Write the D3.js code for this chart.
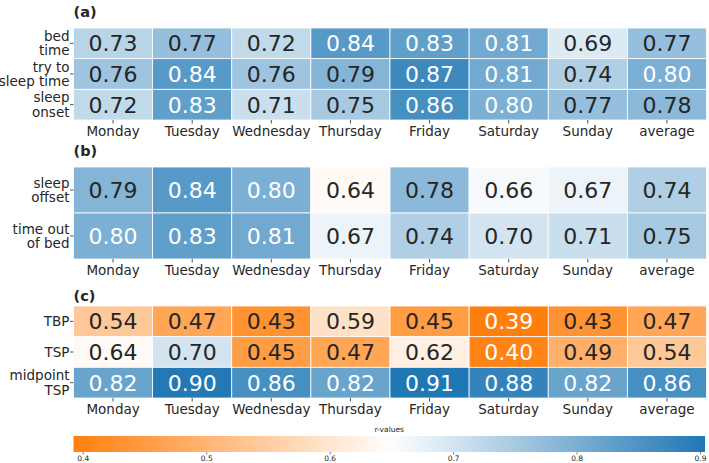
<!DOCTYPE html>
<html>
<head>
<meta charset="utf-8">
<script src="https://cdn.jsdelivr.net/npm/d3@7"></script>
<style>
  html, body { margin: 0; padding: 0; background: #fff; }
  svg { display: block; font-family: "DejaVu Sans", sans-serif; }
</style>
</head>
<body>
<svg id="chart" width="709" height="463"></svg>
<script>
const days = ["Monday", "Tuesday", "Wednesday", "Thursday", "Friday", "Saturday", "Sunday", "average"];

const rowsA = [["bed", "time"], ["try to", "sleep time"], ["sleep", "onset"]];
const valuesA = [
  [0.73, 0.77, 0.72, 0.84, 0.83, 0.81, 0.69, 0.77],
  [0.76, 0.84, 0.76, 0.79, 0.87, 0.81, 0.74, 0.80],
  [0.72, 0.83, 0.71, 0.75, 0.86, 0.80, 0.77, 0.78]
];

const rowsB = [["sleep", "offset"], ["time out", "of bed"]];
const valuesB = [
  [0.79, 0.84, 0.80, 0.64, 0.78, 0.66, 0.67, 0.74],
  [0.80, 0.83, 0.81, 0.67, 0.74, 0.70, 0.71, 0.75]
];

const rowsC = [["TBP"], ["TSP"], ["midpoint", "TSP"]];
const valuesC = [
  [0.54, 0.47, 0.43, 0.59, 0.45, 0.39, 0.43, 0.47],
  [0.64, 0.70, 0.45, 0.47, 0.62, 0.40, 0.49, 0.54],
  [0.82, 0.90, 0.86, 0.82, 0.91, 0.88, 0.82, 0.86]
];

const cbarTicks = [0.4, 0.5, 0.6, 0.7, 0.8, 0.9];
const cbarLabel = "r-values";
const panelTitles = ["(a)", "(b)", "(c)"];

const vmin = 0.3925, vmid = 0.65, vmax = 0.904;
const color = d3.scaleLinear()
  .domain([vmin, vmid, vmax])
  .range(["#ff7f0e", "#ffffff", "#1f77b4"])
  .interpolate(d3.interpolateRgb)
  .clamp(true);

function lum(c) {
  const rgb = d3.rgb(c);
  const f = v => { v /= 255; return v <= 0.03928 ? v / 12.92 : Math.pow((v + 0.055) / 1.055, 2.4); };
  return 0.2126 * f(rgb.r) + 0.7152 * f(rgb.g) + 0.0722 * f(rgb.b);
}

const svg = d3.select("#chart");
const X0 = 73.5, X1 = 706.5;
const x = d3.scaleBand().domain(days).range([X0, X1]).paddingInner(0).paddingOuter(0);

const panels = [
  { title: panelTitles[0], rows: rowsA, values: valuesA, top: 28, bottom: 120, titleY: 16.5 },
  { title: panelTitles[1], rows: rowsB, values: valuesB, top: 167, bottom: 259, titleY: 155.5 },
  { title: panelTitles[2], rows: rowsC, values: valuesC, top: 306, bottom: 398, titleY: 300.5 }
];

panels.forEach(p => {
  const g = svg.append("g");
  const y = d3.scaleBand().domain(d3.range(p.rows.length)).range([p.top, p.bottom]);
  const cells = [];
  p.values.forEach((row, i) => row.forEach((v, j) => cells.push({ i, j, v })));

  g.selectAll("rect.cell").data(cells).join("rect")
    .attr("class", "cell")
    .attr("x", d => x(days[d.j]))
    .attr("y", d => y(d.i))
    .attr("width", x.bandwidth())
    .attr("height", y.bandwidth())
    .attr("fill", d => color(d.v))
    .attr("stroke", "#ffffff")
    .attr("stroke-width", 0.8);

  g.selectAll("text.val").data(cells).join("text")
    .attr("class", "val")
    .attr("x", d => x(days[d.j]) + x.bandwidth() / 2)
    .attr("y", d => y(d.i) + y.bandwidth() / 2)
    .attr("dy", "0.36em")
    .attr("text-anchor", "middle")
    .attr("font-size", 22)
    .attr("fill", d => lum(color(d.v)) < 0.408 ? "#ffffff" : "#262626")
    .text(d => d3.format(".2f")(d.v));

  // x axis
  const xa = g.append("g").attr("transform", `translate(0,${p.bottom})`)
    .call(d3.axisBottom(x).tickSize(3.5).tickPadding(2.5));
  xa.select(".domain").remove();
  xa.selectAll("line").attr("stroke", "#262626").attr("stroke-width", 0.8);
  xa.selectAll("text").attr("font-size", 13.5).attr("fill", "#262626")
    .attr("font-family", "DejaVu Sans, sans-serif");

  // y axis ticks
  const ya = g.append("g").attr("transform", `translate(${X0},0)`)
    .call(d3.axisLeft(y).tickSize(3.5).tickFormat(""));
  ya.select(".domain").remove();
  ya.selectAll("line").attr("stroke", "#262626").attr("stroke-width", 0.8);

  // multi-line row labels
  p.rows.forEach((lines, i) => {
    const cy = y(i) + y.bandwidth() / 2;
    const t = g.append("text")
      .attr("text-anchor", "end")
      .attr("font-size", 13.5)
      .attr("fill", "#262626");
    const n = lines.length;
    lines.forEach((ln, k) => {
      t.append("tspan")
        .attr("x", X0 - 4)
        .attr("y", cy + (k - (n - 1) / 2) * 14.5)
        .attr("dy", "0.36em")
        .text(ln);
    });
  });

  g.append("text")
    .attr("x", X0)
    .attr("y", p.titleY)
    .attr("font-size", 14.5)
    .attr("font-weight", "bold")
    .attr("fill", "#262626")
    .text(p.title);
});

// colorbar
const cbX0 = 73.5, cbX1 = 705, cbY0 = 436, cbY1 = 452;
const cx = d3.scaleLinear().domain([vmin, vmax]).range([cbX0, cbX1]);
const defs = svg.append("defs");
const grad = defs.append("linearGradient").attr("id", "cbgrad")
  .attr("x1", "0%").attr("x2", "100%").attr("y1", "0%").attr("y2", "0%");
d3.range(0, 1.0001, 0.05).forEach(t => {
  const v = vmin + t * (vmax - vmin);
  grad.append("stop").attr("offset", (t * 100) + "%").attr("stop-color", color(v));
});
svg.append("rect")
  .attr("x", cbX0).attr("y", cbY0)
  .attr("width", cbX1 - cbX0).attr("height", cbY1 - cbY0)
  .attr("fill", "url(#cbgrad)");

const ca = svg.append("g").attr("transform", `translate(0,${cbY1})`)
  .call(d3.axisBottom(cx).tickValues(cbarTicks).tickFormat(d3.format(".1f")).tickSize(2.5).tickPadding(1.5));
ca.select(".domain").remove();
ca.selectAll("line").attr("stroke", "#262626").attr("stroke-width", 0.6);
ca.selectAll("text").attr("font-size", 7.5).attr("fill", "#262626")
  .attr("font-family", "DejaVu Sans, sans-serif");

svg.append("text")
  .attr("x", (cbX0 + cbX1) / 2)
  .attr("y", 432)
  .attr("text-anchor", "middle")
  .attr("font-size", 7.5)
  .attr("fill", "#262626")
  .text(cbarLabel);
</script>
</body>
</html>
